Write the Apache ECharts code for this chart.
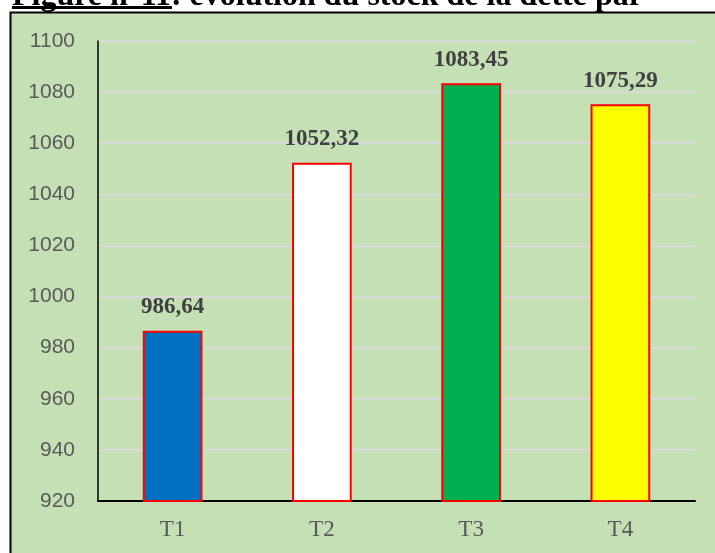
<!DOCTYPE html>
<html>
<head>
<meta charset="utf-8">
<script src="https://cdn.jsdelivr.net/npm/echarts@6/dist/echarts.min.js"></script>
<style>
  html, body { margin: 0; padding: 0; background: #fff; }
  #chart { width: 715px; height: 553px; }
</style>
</head>
<body>
<div id="chart"></div>
<script>
// trimestres
const categories = ['T1', 'T2', 'T3', 'T4']
// stock de la dette
const values = [986.64, 1052.32, 1083.45, 1075.29]
const barColors = ['#0070C0', '#FFFFFF', '#00B050', '#FFFF00']
const titleText = 'Figure n°11: évolution du stock de la dette par'

const chart = echarts.init(document.getElementById('chart'))

const option = {
    backgroundColor: '#ffffff',
    animation: false,
    graphic: [
        {
            type: 'text',
            z: 1,
            style: {
                x: 12, y: 13,
                text: titleText,
                font: 'bold 32px "Liberation Serif"',
                fill: '#000',
                textVerticalAlign: 'bottom'
            }
        },
        // soulignement de "Figure n°11"
        {
            type: 'line', z: 2,
            shape: { x1: 12, y1: 7.5, x2: 172, y2: 7.5 },
            style: { stroke: '#000', lineWidth: 3 }
        },
        // cadre
        {
            type: 'rect', z: -10,
            shape: { x: 10, y: 12, width: 705, height: 541 },
            style: { fill: '#C5E0B4' }
        },
        {
            type: 'polyline', z: 3,
            shape: { points: [[10.5, 553], [10.5, 12.5], [715, 12.5]] },
            style: { stroke: '#000', lineWidth: 2, fill: null }
        }
    ],
    grid: {
        left: 98,
        right: 20,
        top: 41,
        bottom: 52
    },
    xAxis: {
        type: 'category',
        data: categories,
        axisLine: { lineStyle: { color: '#000', width: 2 } },
        axisTick: { show: false },
        axisLabel: {
            color: '#595959',
            fontFamily: 'Liberation Serif',
            fontSize: 23,
            margin: 17
        }
    },
    yAxis: {
        type: 'value',
        min: 920,
        max: 1100,
        interval: 20,
        axisLine: { show: true, lineStyle: { color: '#000', width: 1.5 } },
        axisTick: { show: false },
        axisLabel: {
            color: '#595959',
            fontFamily: 'Liberation Sans',
            fontSize: 21,
            margin: 23,
            formatter: v => String(v)
        },
        splitLine: { lineStyle: { color: '#D9D9D9', width: 2 } }
    },
    series: [{
        type: 'bar',
        barWidth: '40%',
        data: values.map((v, i) => ({
            value: v,
            itemStyle: { color: barColors[i] }
        })),
        itemStyle: { borderColor: '#FF0000', borderWidth: 2 },
        label: {
            show: true,
            position: 'top',
            distance: 12,
            color: '#404040',
            fontFamily: 'Liberation Serif',
            fontWeight: 'bold',
            fontSize: 23,
            formatter: p => p.value.toFixed(2).replace('.', ',')
        }
    }]
}
chart.setOption(option)
</script>
</body>
</html>
